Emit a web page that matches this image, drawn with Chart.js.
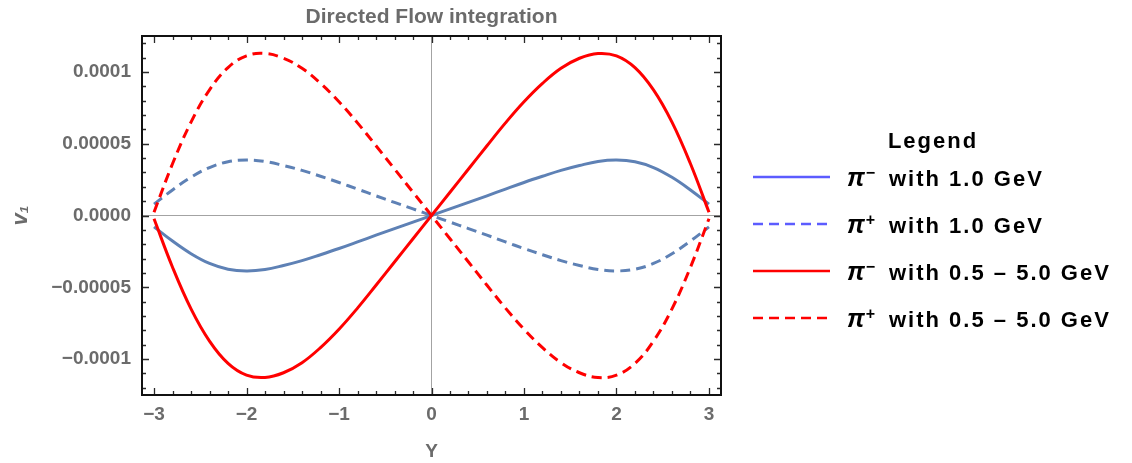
<!DOCTYPE html>
<html>
<head>
<meta charset="utf-8">
<title>Directed Flow integration</title>
<script src="https://cdn.jsdelivr.net/npm/chart.js@4.4.1/dist/chart.umd.min.js"></script>
<style>
  html, body { margin: 0; padding: 0; background: #ffffff; }
  #wrap { width: 1132px; height: 463px; }
</style>
</head>
<body>
<div id="wrap"><canvas id="flow" width="1132" height="463"></canvas></div>
<script>
// Rapidity grid shared by every curve
const rapidity = [-3.0, -2.8, -2.6, -2.4, -2.2, -2.0, -1.8, -1.6, -1.4, -1.2, -1.0, -0.8, -0.6, -0.4, -0.2, 0.0,
                  0.2, 0.4, 0.6, 0.8, 1.0, 1.2, 1.4, 1.6, 1.8, 2.0, 2.2, 2.4, 2.6, 2.8, 3.0];

// v1 for pi- at 1.0 GeV
const piMinus1GeV = [-0.79e-5, -1.78e-5, -2.66e-5, -3.34e-5, -3.74e-5, -3.86e-5, -3.76e-5, -3.48e-5, -3.14e-5, -2.73e-5,
                     -2.30e-5, -1.84e-5, -1.37e-5, -0.91e-5, -0.46e-5, 0,
                     0.46e-5, 0.91e-5, 1.37e-5, 1.84e-5, 2.30e-5, 2.73e-5, 3.14e-5, 3.48e-5, 3.76e-5, 3.86e-5,
                     3.74e-5, 3.34e-5, 2.66e-5, 1.78e-5, 0.79e-5];

// v1 for pi+ at 1.0 GeV
const piPlus1GeV = [0.79e-5, 1.78e-5, 2.66e-5, 3.34e-5, 3.74e-5, 3.86e-5, 3.76e-5, 3.48e-5, 3.14e-5, 2.73e-5,
                    2.30e-5, 1.84e-5, 1.37e-5, 0.91e-5, 0.46e-5, 0,
                    -0.46e-5, -0.91e-5, -1.37e-5, -1.84e-5, -2.30e-5, -2.73e-5, -3.14e-5, -3.48e-5, -3.76e-5, -3.86e-5,
                    -3.74e-5, -3.34e-5, -2.66e-5, -1.78e-5, -0.79e-5];

// v1 for pi- integrated over 0.5 - 5.0 GeV
const piMinusWide = [-0.23e-5, -3.60e-5, -6.50e-5, -8.75e-5, -10.30e-5, -11.12e-5, -11.28e-5, -10.95e-5, -10.25e-5, -9.20e-5,
                     -7.92e-5, -6.45e-5, -4.86e-5, -3.24e-5, -1.62e-5, 0,
                     1.62e-5, 3.24e-5, 4.86e-5, 6.45e-5, 7.92e-5, 9.20e-5, 10.25e-5, 10.95e-5, 11.28e-5, 11.12e-5,
                     10.30e-5, 8.75e-5, 6.50e-5, 3.60e-5, 0.23e-5];

// v1 for pi+ integrated over 0.5 - 5.0 GeV
const piPlusWide = [0.23e-5, 3.60e-5, 6.50e-5, 8.75e-5, 10.30e-5, 11.12e-5, 11.28e-5, 10.95e-5, 10.25e-5, 9.20e-5,
                    7.92e-5, 6.45e-5, 4.86e-5, 3.24e-5, 1.62e-5, 0,
                    -1.62e-5, -3.24e-5, -4.86e-5, -6.45e-5, -7.92e-5, -9.20e-5, -10.25e-5, -10.95e-5, -11.28e-5, -11.12e-5,
                    -10.30e-5, -8.75e-5, -6.50e-5, -3.60e-5, -0.23e-5];

const seriesLabels = ['π⁻ with 1.0 GeV', 'π⁺ with 1.0 GeV', 'π⁻ with 0.5 – 5.0 GeV', 'π⁺ with 0.5 – 5.0 GeV'];

const xTickValues = [-3, -2, -1, 0, 1, 2, 3];
const xTickLabels = ['−3', '−2', '−1', '0', '1', '2', '3'];
const yTickValues = [-0.0001, -0.00005, 0, 0.00005, 0.0001];
const yTickLabels = ['−0.0001', '−0.00005', '0.0000', '0.00005', '0.0001'];

const chartTitle = 'Directed Flow integration';
const xTitle = 'Y';
const yTitle = 'v₁';
const legendTitle = 'Legend';

const FONT = '"Liberation Sans", Arial, Helvetica, sans-serif';
const GREY = '#6b6b6b';
const PLOT_BLUE = '#5e81b5';
const KEY_BLUE = '#5c5cff';
const RED = '#ff0000';
const DASH = [10, 6];

const toPoints = ys => rapidity.map((x, i) => ({ x: x, y: ys[i] }));

// Frame around the plot area with inward major / minor ticks on all four sides
const frameTicks = {
  id: 'frameTicks',
  afterDatasetsDraw(chart) {
    const { ctx, chartArea: a, scales } = chart;
    const sx = scales.x, sy = scales.y;
    ctx.save();
    ctx.strokeStyle = '#2a2a2a';
    ctx.lineWidth = 1.3;
    ctx.beginPath();
    for (let i = -15; i <= 15; i++) {
      const px = Math.round(sx.getPixelForValue(i * 0.2)) + 0.5;
      const len = (i % 5 === 0) ? 7 : 4;
      ctx.moveTo(px, a.bottom); ctx.lineTo(px, a.bottom - len);
      ctx.moveTo(px, a.top); ctx.lineTo(px, a.top + len);
    }
    for (let j = -12; j <= 12; j++) {
      const py = Math.round(sy.getPixelForValue(j * 1e-5)) + 0.5;
      const len = (j % 5 === 0) ? 7 : 4;
      ctx.moveTo(a.left, py); ctx.lineTo(a.left + len, py);
      ctx.moveTo(a.right, py); ctx.lineTo(a.right - len, py);
    }
    ctx.stroke();
    ctx.strokeStyle = '#111111';
    ctx.lineWidth = 2;
    ctx.strokeRect(a.left, a.top, a.right - a.left, a.bottom - a.top);
    ctx.restore();
  }
};

// Key on the right: title, line samples and labels with superscript charges
const sideKey = {
  id: 'sideKey',
  afterDraw(chart) {
    const ctx = chart.ctx;
    const sup = { '⁻': '−', '⁺': '+' };
    ctx.save();
    ctx.fillStyle = '#000000';
    ctx.textBaseline = 'alphabetic';
    if ('letterSpacing' in ctx) ctx.letterSpacing = '2px';
    ctx.font = 'bold 22px ' + FONT;
    ctx.textAlign = 'center';
    ctx.fillText(legendTitle, 933, 148);
    ctx.textAlign = 'left';
    chart.data.datasets.forEach((ds, i) => {
      const rowY = 177 + i * 47;
      ctx.save();
      ctx.strokeStyle = ds.keyColor;
      ctx.lineWidth = 2.5;
      ctx.lineCap = 'butt';
      ctx.setLineDash(ds.borderDash || []);
      ctx.beginPath();
      ctx.moveTo(753, rowY);
      ctx.lineTo(830, rowY);
      ctx.stroke();
      ctx.restore();

      const label = ds.label;
      const particle = label.charAt(0);
      const charge = sup[label.charAt(1)] || label.charAt(1);
      const rest = label.slice(3);
      if ('letterSpacing' in ctx) ctx.letterSpacing = '0px';
      ctx.font = 'italic bold 25px ' + FONT;
      ctx.fillText(particle, 847, rowY + 9);
      const pw = ctx.measureText(particle).width;
      ctx.font = 'bold 16px ' + FONT;
      ctx.fillText(charge, 847 + pw + 1, rowY + 1);
      if ('letterSpacing' in ctx) ctx.letterSpacing = '2px';
      ctx.font = 'bold 22px ' + FONT;
      ctx.fillText(rest, 889, rowY + 9);
    });
    ctx.restore();
  }
};

const tickFont = { family: FONT, size: 19, weight: 'bold' };

new Chart(document.getElementById('flow'), {
  type: 'line',
  data: {
    datasets: [
      { label: seriesLabels[0], data: toPoints(piMinus1GeV), borderColor: PLOT_BLUE, keyColor: KEY_BLUE, order: 3 },
      { label: seriesLabels[1], data: toPoints(piPlus1GeV), borderColor: PLOT_BLUE, keyColor: KEY_BLUE, borderDash: DASH, order: 2 },
      { label: seriesLabels[2], data: toPoints(piMinusWide), borderColor: RED, keyColor: RED, order: 1 },
      { label: seriesLabels[3], data: toPoints(piPlusWide), borderColor: RED, keyColor: RED, borderDash: DASH, order: 0 }
    ]
  },
  options: {
    responsive: false,
    animation: false,
    devicePixelRatio: 1,
    parsing: false,
    elements: {
      point: { radius: 0, hoverRadius: 0 },
      line: { borderWidth: 3, fill: false, tension: 0.4, borderCapStyle: 'butt', borderJoinStyle: 'round' }
    },
    layout: { padding: { left: 0, right: 411, top: 0, bottom: 0 } },
    plugins: {
      legend: { display: false },
      tooltip: { enabled: false },
      title: {
        display: true,
        text: chartTitle,
        fullSize: false,
        color: GREY,
        font: { family: FONT, size: 21, weight: 'bold' },
        padding: { top: 5, bottom: 5.8 }
      }
    },
    scales: {
      x: {
        type: 'linear',
        min: -3.13,
        max: 3.13,
        afterBuildTicks: s => { s.ticks = xTickValues.map(v => ({ value: v })); },
        afterFit: s => { s.height = 68; },
        ticks: {
          callback: (v, i) => xTickLabels[i],
          color: GREY,
          font: tickFont,
          padding: 8,
          autoSkip: false,
          maxRotation: 0
        },
        grid: {
          color: c => (c.tick && c.tick.value === 0) ? '#a3a3a3' : 'rgba(0,0,0,0)',
          lineWidth: 1,
          drawTicks: false
        },
        border: { display: false },
        title: { display: true, text: xTitle, color: GREY, font: tickFont, padding: { top: 0, bottom: 0 } }
      },
      y: {
        type: 'linear',
        min: -0.000125,
        max: 0.000125,
        afterBuildTicks: s => { s.ticks = yTickValues.map(v => ({ value: v })); },
        afterFit: s => { s.width = 142; },
        ticks: {
          callback: (v, i) => yTickLabels[i],
          color: GREY,
          font: tickFont,
          padding: 11,
          autoSkip: false
        },
        grid: {
          color: c => (c.tick && c.tick.value === 0) ? '#a3a3a3' : 'rgba(0,0,0,0)',
          lineWidth: 1,
          drawTicks: false
        },
        border: { display: false },
        title: { display: true, text: yTitle, color: GREY, font: { family: FONT, size: 22, weight: 'bold', style: 'italic' }, padding: { top: 8, bottom: 0 } }
      }
    }
  },
  plugins: [frameTicks, sideKey]
});
</script>
</body>
</html>
